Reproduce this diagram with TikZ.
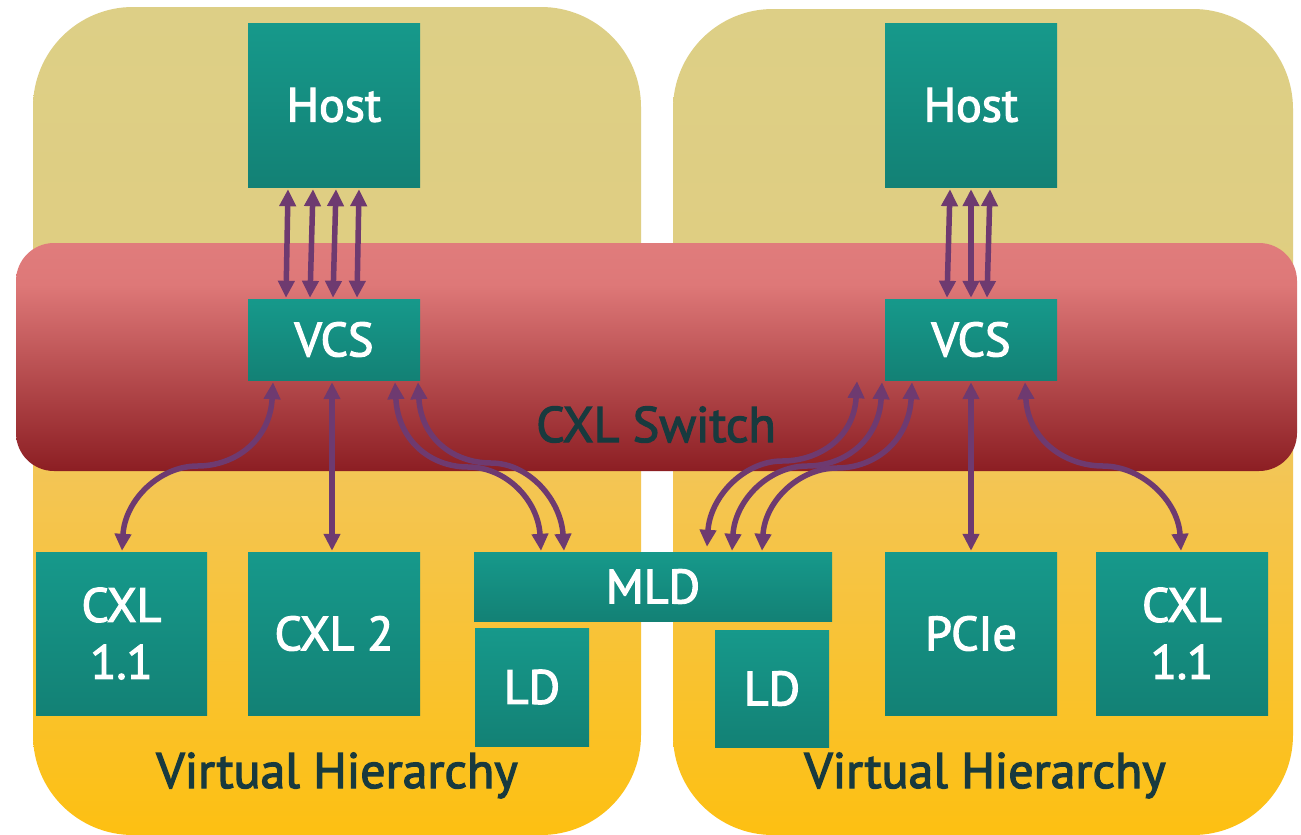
\documentclass[tikz,border=0pt]{standalone}
\usepackage{fontspec}
\setmainfont{PT Sans}[UprightFeatures={FakeBold=2.5}]
\usetikzlibrary{arrows.meta}

\definecolor{panelTop}{RGB}{221,207,134}
\definecolor{panelMid}{RGB}{223,206,130}
\definecolor{panelLow}{RGB}{244,197,82}
\definecolor{panelBot}{RGB}{253,192,18}
\definecolor{swTop}{RGB}{224,124,124}
\definecolor{swLight}{RGB}{222,120,120}
\definecolor{swBot}{RGB}{140,30,35}
\definecolor{boxTop}{RGB}{22,153,139}
\definecolor{boxBot}{RGB}{19,129,117}
\definecolor{linkCol}{RGB}{110,58,112}
\definecolor{labelCol}{RGB}{24,58,62}

% vertical fills; the path spans 25bp (bottom) to 75bp (top)
\pgfdeclareverticalshading{panelshade}{100bp}{%
  color(0bp)=(panelBot); color(25bp)=(panelBot);
  color(46bp)=(panelLow); color(61bp)=(panelMid);
  color(75bp)=(panelTop); color(100bp)=(panelTop)}
\pgfdeclareverticalshading{switchshade}{100bp}{%
  color(0bp)=(swBot); color(25bp)=(swBot);
  color(66bp)=(swLight); color(75bp)=(swTop); color(100bp)=(swTop)}

\tikzset{
  unit/.style={inner sep=0pt, top color=boxTop, bottom color=boxBot,
    text=white, font=\fontsize{48}{57}\selectfont, align=center},
  link/.style={draw=linkCol, line width=5.5pt,
    {Triangle[length=17pt,width=16pt]}-{Triangle[length=17pt,width=16pt]}},
  caption/.style={text=labelCol, font=\fontsize{50}{60}\selectfont,
    inner sep=0pt, anchor=base}
}

\begin{document}
\begin{tikzpicture}[x=1pt, y=-1pt]
\useasboundingbox (0,0) rectangle (1301,835);
\fill[white] (0,0) rectangle (1301,835);

% two virtual hierarchy panels
\path[shading=panelshade, rounded corners=100pt] (33,7) rectangle (641,835);
\path[shading=panelshade, rounded corners=100pt] (673,9) rectangle (1293,835);

% switch band
\path[shading=switchshade, rounded corners=38pt] (16,243) rectangle (1297,471);
\node[caption] (switch) at (656,442) {CXL Switch};

% hosts and virtual switches
\node[unit, minimum width=172pt, minimum height=164pt] (hostL) at (334,105) {Host};
\node[unit, minimum width=172pt, minimum height=164pt] (hostR) at (971,105) {Host};
\node[unit, minimum width=172pt, minimum height=81pt] (vcsL) at (334,339.5) {VCS};
\node[unit, minimum width=172pt, minimum height=81pt] (vcsR) at (971,339.5) {VCS};

% devices
\node[unit, minimum width=171pt, minimum height=163pt] (cxlL) at (121.5,633.5) {CXL\\1.1};
\node[unit, minimum width=172pt, minimum height=163pt] (cxl2) at (334,633.5) {CXL 2};
\node[unit, minimum width=358pt, minimum height=69pt] (mld) at (653,586.5) {MLD};
\node[unit, minimum width=114pt, minimum height=118pt] (ldL) at (532,687) {LD};
\node[unit, minimum width=114pt, minimum height=117pt] (ldR) at (772,688.5) {LD};
\node[unit, minimum width=172pt, minimum height=163pt] (pcie) at (971,633.5) {PCIe};
\node[unit, minimum width=172pt, minimum height=163pt] (cxlR) at (1182,633.5) {CXL\\1.1};

% hierarchy captions
\node[caption] (vhL) at (337,788) {Virtual Hierarchy};
\node[caption] (vhR) at (985,788) {Virtual Hierarchy};

% host to VCS links
\draw[link] ([xshift=-46pt,yshift=-2pt]hostL.south) -- ([xshift=-48pt,yshift=1pt]vcsL.north);
\draw[link] ([xshift=-21pt,yshift=-2pt]hostL.south) -- ([xshift=-24pt,yshift=1pt]vcsL.north);
\draw[link] ([xshift=2pt,yshift=-2pt]hostL.south) -- ([xshift=-1pt,yshift=1pt]vcsL.north);
\draw[link] ([xshift=25pt,yshift=-2pt]hostL.south) -- ([xshift=23pt,yshift=1pt]vcsL.north);

\draw[link] ([xshift=-21pt,yshift=-2pt]hostR.south) -- ([xshift=-24pt,yshift=1pt]vcsR.north);
\draw[link] ([yshift=-2pt]hostR.south) -- ([yshift=1pt]vcsR.north);
\draw[link] ([xshift=19pt,yshift=-2pt]hostR.south) -- ([xshift=16pt,yshift=1pt]vcsR.north);

% straight VCS to device links
\draw[link] ([xshift=-2pt,yshift=-2pt]vcsL.south) -- ([xshift=-2pt,yshift=1pt]cxl2.north);
\draw[link] ([yshift=-2pt]vcsR.south) -- ([yshift=1pt]pcie.north);

% curved VCS to device links
\draw[link] ([xshift=-61pt,yshift=-2pt]vcsL.south)
  .. controls (270,440) and (235.5,466) .. (197.5,466)
  .. controls (159.5,466) and (125,500) .. ([xshift=0.5pt,yshift=1pt]cxlL.north);

\draw[link] ([xshift=61pt,yshift=-2pt]vcsL.south)
  .. controls (398,440) and (430,467) .. (468,467)
  .. controls (506,467) and (538,500) .. ([xshift=-112pt,yshift=1pt]mld.north);
\draw[link] ([xshift=84pt,yshift=-2pt]vcsL.south)
  .. controls (421,438) and (453,463) .. (491,463)
  .. controls (529,463) and (561,500) .. ([xshift=-89pt,yshift=1pt]mld.north);

\draw[link] ([xshift=-114pt,yshift=-1pt]vcsR.south)
  .. controls (854,437) and (820,461) .. (782,461)
  .. controls (744,461) and (710,497) .. ([xshift=54pt,yshift=5pt]mld.north);
\draw[link] ([xshift=-89pt,yshift=-2pt]vcsR.south)
  .. controls (879,440) and (845,466) .. (807,466)
  .. controls (769,466) and (735,500) .. ([xshift=79pt,yshift=1pt]mld.north);
\draw[link] ([xshift=-59pt,yshift=-2pt]vcsR.south)
  .. controls (909,441) and (875,468) .. (837,468)
  .. controls (799,468) and (765,501) .. ([xshift=109pt,yshift=1pt]mld.north);

\draw[link] ([xshift=54pt,yshift=-2pt]vcsR.south)
  .. controls (1028,440) and (1065,466) .. (1103,466)
  .. controls (1141,466) and (1178,500) .. ([xshift=-1pt,yshift=1pt]cxlR.north);
\end{tikzpicture}
\end{document}
